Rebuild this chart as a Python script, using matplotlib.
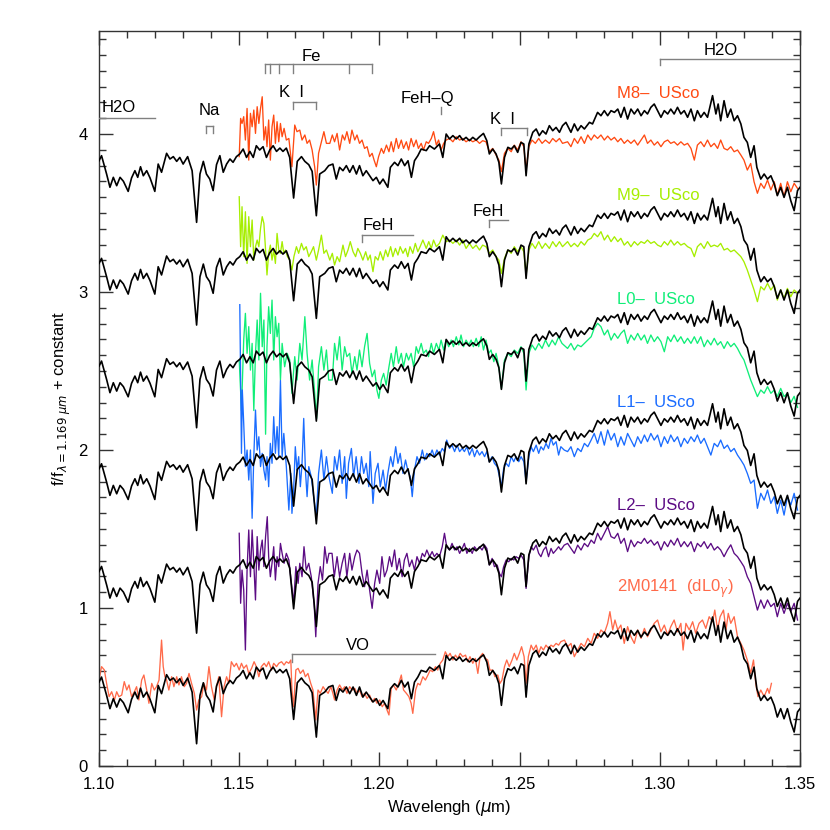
import matplotlib
matplotlib.use('Agg')
import matplotlib.pyplot as plt
from matplotlib.ticker import MultipleLocator, FormatStrFormatter

plt.rcParams['font.family'] = ['Liberation Sans', 'DejaVu Sans']
plt.rcParams['mathtext.fontset'] = 'dejavusans'

# ---------------- data ----------------
# field-dwarf comparison spectrum (black), f/f(1.169um), same for every row
wl_black = [1.1000,1.1009,1.1027,1.1039,1.1051,1.1063,1.1075,1.1087,1.1104,1.1116,1.1128,1.1138,1.1148,1.1158,1.1170,
            1.1182,1.1199,1.1211,1.1223,1.1241,1.1253,1.1265,1.1277,1.1288,1.1300,1.1316,1.1332,1.1348,1.1360,1.1372,
            1.1383,1.1395,1.1407,1.1419,1.1431,1.1443,1.1455,1.1467,1.1478,1.1490,1.1502,1.1514,1.1526,1.1538,1.1550,
            1.1561,1.1573,1.1585,1.1597,1.1609,1.1621,1.1633,1.1645,1.1656,1.1668,1.1680,1.1694,1.1707,1.1722,1.1734,
            1.1748,1.1760,1.1775,1.1787,1.1805,1.1819,1.1834,
            1.1846,1.1858,1.1870,1.1882,1.1894,1.1906,1.1918,1.1929,1.1941,1.1953,1.1965,1.1977,1.1989,1.2001,1.2013,
            1.2030,1.2039,1.2054,1.2066,1.2078,1.2090,1.2102,1.2114,1.2125,1.2137,1.2149,1.2167,1.2179,1.2196,1.2214,
            1.2226,1.2238,1.2250,1.2262,1.2274,1.2286,1.2297,1.2309,1.2321,1.2333,1.2345,1.2357,1.2371,1.2383,1.2392,
            1.2404,1.2416,1.2426,1.2435,1.2446,1.2458,1.2470,1.2481,1.2493,1.2505,1.2515,1.2523,1.2533,1.2547,1.2559,
            1.2570,1.2582,1.2594,1.2606,1.2618,1.2630,1.2642,1.2653,1.2665,
            1.2683,1.2695,1.2707,1.2719,1.2731,1.2749,1.2760,1.2778,1.2790,1.2802,1.2814,1.2826,1.2838,1.2850,1.2861,
            1.2873,1.2885,1.2897,1.2909,1.2921,1.2933,1.2945,1.2956,1.2968,1.2980,1.2992,1.3004,1.3016,1.3028,1.3039,
            1.3051,1.3063,1.3075,1.3087,1.3099,1.3111,1.3123,1.3134,1.3146,1.3158,1.3170,1.3188,1.3200,1.3208,1.3217,
            1.3229,1.3241,1.3253,1.3265,1.3277,1.3289,1.3300,1.3312,1.3324,1.3336,1.3346,1.3360,1.3372,1.3384,1.3396,
            1.3408,1.3419,1.3431,1.3443,1.3455,1.3467,1.3479,1.3491,1.3500]
fx_black = [0.531,0.563,0.447,0.363,0.426,0.373,0.426,0.401,0.337,0.422,0.468,0.426,0.493,0.436,0.468,
            0.422,0.337,0.510,0.458,0.578,0.542,0.557,0.527,0.552,0.510,0.557,0.468,0.141,0.447,0.527,
            0.447,0.415,0.342,0.506,0.563,0.458,0.510,0.542,0.521,0.557,0.574,0.605,0.552,0.590,0.552,
            0.626,0.599,0.620,0.552,0.599,0.626,0.590,0.611,0.590,0.611,0.552,0.295,0.527,0.557,0.527,
            0.506,0.464,0.183,0.447,0.468,0.500,0.510,
            0.415,0.489,0.468,0.500,0.458,0.500,0.447,0.500,0.436,0.468,0.436,0.405,0.426,0.384,0.415,
            0.363,0.489,0.521,0.500,0.542,0.500,0.531,0.426,0.531,0.563,0.605,0.595,0.626,0.605,0.637,
            0.552,0.700,0.669,0.690,0.669,0.690,0.662,0.679,0.658,0.679,0.662,0.683,0.704,0.658,0.574,
            0.605,0.574,0.521,0.384,0.552,0.616,0.605,0.626,0.584,0.647,0.637,0.436,0.637,0.711,0.732,
            0.690,0.721,0.700,0.753,0.721,0.742,0.711,0.753,0.774,
            0.711,0.764,0.721,0.753,0.732,0.774,0.764,0.837,0.816,0.848,0.816,0.848,0.837,0.858,0.806,
            0.869,0.795,0.858,0.827,0.858,0.816,0.848,0.827,0.869,0.890,0.848,0.806,0.848,0.827,0.858,
            0.827,0.869,0.827,0.848,0.806,0.858,0.784,0.848,0.806,0.837,0.806,0.943,0.827,0.890,0.784,
            0.911,0.806,0.858,0.784,0.816,0.764,0.679,0.647,0.552,0.626,0.489,0.415,0.447,0.415,0.436,
            0.384,0.310,0.363,0.299,0.363,0.278,0.215,0.342,0.363]

# common red-end wavelength grid of the USco spectra
wl_red = [1.2671,1.2683,1.2695,1.2707,1.2719,1.2731,1.2743,1.2755,1.2766,1.2778,1.2790,1.2802,1.2814,1.2826,1.2838,
          1.2850,1.2861,1.2873,1.2885,1.2897,1.2909,1.2921,1.2933,1.2945,1.2956,1.2968,1.2980,1.2992,1.3004,1.3016,
          1.3028,1.3039,1.3051,1.3063,1.3075,1.3087,1.3099,1.3111,1.3123,1.3134,1.3146,1.3158,1.3170,1.3182,1.3194,
          1.3206,1.3217,1.3229,1.3241,1.3253,1.3265,1.3277,1.3289,1.3300,1.3312,1.3324,1.3336,1.3348,1.3360,1.3372,
          1.3384,1.3396,1.3408,1.3419,1.3431,1.3443,1.3455,1.3467,1.3479,1.3491]

# M8 USco
wl_m8 = [1.1500,1.1505,1.1510,1.1516,1.1522,1.1528,1.1534,1.1540,1.1546,1.1552,1.1558,1.1564,1.1570,1.1576,1.1582,
         1.1588,1.1594,1.1599,1.1605,1.1611,1.1617,1.1623,1.1629,1.1635,1.1641,1.1647,1.1653,1.1660,1.1668,1.1677,
         1.1688,1.1698,1.1706,1.1716,1.1724,1.1734,1.1742,1.1751,1.1760,1.1769,1.1775,1.1783,1.1793,1.1802,1.1811,
         1.1823,1.1832,1.1840,1.1849,1.1858,1.1868,1.1876,1.1884,1.1894,1.1902,1.1912,1.1920,1.1929,1.1938,1.1947,
         1.1956,1.1965,1.1974,1.1981,1.1989,1.1997,1.2007,1.2015,1.2025,1.2034,1.2042,1.2050,1.2060,1.2068,1.2078,
         1.2086,1.2096,1.2104,1.2113,1.2122,1.2131,1.2139,1.2149,1.2157,1.2167,1.2175,1.2185,1.2193,1.2203,1.2211,
         1.2220,1.2229,1.2238,1.2250,1.2262,1.2274,1.2286,1.2297,1.2309,1.2321,1.2333,1.2345,1.2357,1.2368,1.2380,
         1.2392,1.2404,1.2416,1.2426,1.2435,1.2446,1.2458,1.2470,1.2481,1.2493,1.2505,1.2515,1.2523,1.2533,1.2544,
         1.2556,1.2568,1.2580,1.2592,1.2606,1.2618,1.2630,1.2642,1.2653] + wl_red
fx_m8 = [0.557,0.799,0.767,0.810,0.662,0.862,0.535,0.831,0.746,0.852,0.704,0.873,0.767,0.862,0.936,
         0.662,0.746,0.620,0.789,0.535,0.746,0.820,0.641,0.778,0.651,0.767,0.683,0.736,0.662,0.672,
         0.493,0.757,0.715,0.725,0.662,0.694,0.641,0.662,0.599,0.493,0.377,0.578,0.651,0.715,0.641,
         0.641,0.694,0.651,0.704,0.599,0.694,0.662,0.715,0.641,0.725,0.662,0.694,0.641,0.662,0.609,
         0.620,0.557,0.578,0.535,0.493,0.557,0.609,0.578,0.630,0.588,0.651,0.588,0.672,0.609,0.662,
         0.609,0.651,0.599,0.672,0.620,0.662,0.609,0.641,0.599,0.651,0.641,0.672,0.715,0.630,0.662,
         0.599,0.641,0.662,0.672,0.651,0.683,0.662,0.672,0.651,0.666,0.651,0.662,0.641,0.658,0.651,
         0.588,0.609,0.567,0.535,0.462,0.578,0.609,0.588,0.630,0.599,0.651,0.620,0.472,0.620,0.662,
         0.641,0.672,0.641,0.662,0.641,0.672,0.651,0.672,0.641,
         0.651,0.620,0.672,0.641,0.683,0.641,0.694,0.662,0.694,0.672,0.694,0.662,0.687,0.662,0.679,
         0.651,0.672,0.641,0.662,0.641,0.662,0.630,0.662,0.694,0.641,0.662,0.630,0.651,0.620,0.651,
         0.662,0.641,0.651,0.630,0.651,0.630,0.641,0.609,0.535,0.630,0.651,0.620,0.662,0.620,0.641,
         0.609,0.662,0.609,0.599,0.620,0.588,0.599,0.567,0.535,0.472,0.514,0.398,0.325,0.388,0.356,
         0.409,0.346,0.398,0.314,0.388,0.303,0.398,0.335,0.388,0.356]

# M9 USco
wl_m9 = [1.1500,1.1505,1.1510,1.1516,1.1522,1.1528,1.1534,1.1540,1.1546,1.1552,1.1558,1.1564,1.1570,1.1576,1.1582,
         1.1588,1.1594,1.1599,1.1605,1.1611,1.1617,1.1623,1.1629,1.1635,1.1641,1.1647,1.1653,1.1659,1.1665,1.1672,
         1.1680,1.1688,1.1695,1.1704,1.1712,1.1722,1.1730,1.1739,1.1748,1.1757,1.1765,1.1775,1.1783,1.1793,1.1802,
         1.1811,
         1.1823,1.1832,1.1840,1.1849,1.1858,1.1870,1.1879,1.1888,1.1896,1.1906,1.1915,1.1923,1.1932,1.1941,1.1951,
         1.1959,1.1967,1.1977,1.1985,1.1995,1.2003,1.2013,1.2022,1.2030,1.2040,1.2048,1.2057,1.2066,1.2074,1.2084,
         1.2093,1.2101,1.2109,1.2119,1.2128,1.2137,1.2145,1.2155,1.2167,1.2176,1.2185,1.2193,1.2203,1.2214,1.2226,
         1.2238,1.2250,1.2262,1.2274,1.2286,1.2297,1.2309,1.2321,1.2333,1.2345,1.2357,1.2368,1.2380,1.2392,1.2404,
         1.2416,1.2426,1.2435,1.2446,1.2458,1.2470,1.2481,1.2493,1.2505,1.2515,1.2523,1.2533,1.2544,1.2556,1.2568,
         1.2580,1.2592,1.2606,1.2618,1.2630,1.2642,1.2653] + wl_red
fx_m9 = [0.953,0.637,0.890,0.574,0.858,0.531,0.827,0.637,0.806,0.552,0.637,0.679,0.637,0.753,0.827,
         0.784,0.616,0.458,0.595,0.647,0.552,0.616,0.531,0.721,0.616,0.595,0.669,0.595,0.616,0.574,
         0.552,0.489,0.574,0.637,0.595,0.658,0.616,0.637,0.574,0.605,0.637,0.552,0.616,0.710,0.595,
         0.616,
         0.552,0.595,0.521,0.574,0.542,0.647,0.574,0.616,0.669,0.605,0.574,0.626,0.595,0.552,0.605,
         0.552,0.584,0.479,0.574,0.552,0.605,0.552,0.616,0.574,0.637,0.574,0.626,0.584,0.637,0.595,
         0.626,0.574,0.637,0.595,0.658,0.605,0.637,0.679,0.626,0.669,0.626,0.679,0.637,0.658,0.710,
         0.669,0.679,0.658,0.679,0.647,0.679,0.626,0.658,0.626,0.647,0.616,0.647,0.637,0.595,0.616,
         0.574,0.552,0.468,0.563,0.616,0.595,0.637,0.605,0.637,0.605,0.458,0.616,0.658,0.626,0.669,
         0.626,0.658,0.626,0.669,0.637,0.669,0.637,
         0.669,0.637,0.658,0.637,0.669,0.647,0.679,0.690,0.721,0.700,0.732,0.679,0.710,0.669,0.700,
         0.669,0.690,0.647,0.669,0.637,0.669,0.647,0.669,0.658,0.679,0.658,0.669,0.647,0.637,0.669,
         0.647,0.679,0.647,0.669,0.647,0.658,0.637,0.626,0.574,0.637,0.658,0.626,0.669,0.637,0.647,
         0.637,0.658,0.616,0.626,0.605,0.616,0.595,0.574,0.542,0.489,0.426,0.363,0.289,0.384,0.363,
         0.405,0.363,0.394,0.299,0.363,0.310,0.373,0.320,0.363,0.342]

# L0 USco
wl_l0 = [1.1500,1.1508,1.1516,1.1522,1.1528,1.1534,1.1540,1.1546,1.1552,1.1558,1.1564,1.1570,1.1576,1.1582,1.1588,
         1.1594,1.1599,1.1605,1.1611,1.1617,1.1623,1.1629,1.1635,1.1641,1.1647,1.1653,1.1662,1.1671,1.1680,1.1688,
         1.1698,1.1706,1.1716,1.1724,1.1734,1.1742,1.1751,1.1760,1.1769,1.1776,1.1783,1.1793,1.1802,1.1811,1.1819,
         1.1832,1.1840,1.1849,1.1858,1.1867,1.1876,1.1884,1.1894,1.1902,1.1912,1.1920,1.1929,1.1938,1.1947,1.1956,
         1.1965,1.1974,1.1983,1.1991,1.1998,1.2007,1.2015,1.2024,1.2034,1.2042,1.2050,1.2060,1.2068,1.2078,1.2086,
         1.2096,1.2104,1.2113,1.2122,1.2131,1.2139,1.2149,1.2157,1.2167,1.2175,1.2185,1.2193,1.2203,1.2212,1.2220,
         1.2229,1.2238,1.2247,1.2256,1.2264,1.2274,1.2283,1.2291,1.2300,1.2309,1.2319,1.2327,1.2335,1.2345,1.2354,
         1.2363,1.2371,1.2380,1.2390,1.2398,1.2408,1.2416,1.2426,1.2435,1.2446,1.2458,1.2470,1.2481,1.2493,1.2505,
         1.2515,1.2523,1.2533,1.2544,1.2556,1.2568,1.2580,1.2592,1.2604,1.2616,1.2627,1.2639,1.2651] + wl_red
fx_l0 = [0.570,0.250,0.696,0.865,0.612,0.781,0.506,0.675,0.250,0.612,0.823,0.570,0.992,0.654,0.823,
         0.100,0.654,0.907,0.738,0.949,0.570,0.844,0.717,0.802,0.443,0.675,0.527,0.612,0.570,0.359,
         0.591,0.443,0.675,0.570,0.844,0.612,0.443,0.570,0.359,0.200,0.527,0.654,0.506,0.633,0.443,
         0.443,0.675,0.570,0.717,0.506,0.654,0.591,0.612,0.485,0.591,0.506,0.633,0.527,0.654,0.738,
         0.549,0.464,0.506,0.380,0.327,0.443,0.485,0.411,0.527,0.612,0.527,0.654,0.549,0.612,0.527,
         0.612,0.570,0.612,0.527,0.654,0.612,0.675,0.612,0.633,0.591,0.675,0.612,0.675,0.633,0.696,
         0.633,0.696,0.654,0.696,0.654,0.717,0.665,0.728,0.654,0.696,0.665,0.696,0.654,0.707,0.654,
         0.717,0.633,0.696,0.612,0.633,0.559,0.612,0.527,0.390,0.570,0.612,0.591,0.633,0.612,0.654,
         0.612,0.380,0.612,0.665,0.633,0.675,0.643,0.696,0.654,0.696,0.665,0.717,0.675,
         0.643,0.675,0.633,0.665,0.654,0.675,0.696,0.717,0.770,0.802,0.781,0.728,0.760,0.696,0.738,
         0.707,0.738,0.760,0.675,0.728,0.696,0.738,0.696,0.728,0.675,0.728,0.686,0.717,0.686,0.622,
         0.717,0.686,0.728,0.686,0.717,0.675,0.707,0.675,0.717,0.675,0.717,0.654,0.696,0.665,0.707,
         0.665,0.686,0.643,0.686,0.654,0.675,0.643,0.601,0.570,0.506,0.443,0.390,0.338,0.380,0.359,
         0.401,0.359,0.380,0.338,0.390,0.338,0.360,0.300,0.340,0.270]

# L1 USco
wl_l1 = [1.1502,1.1508,1.1511,1.1516,1.1522,1.1528,1.1534,1.1540,1.1546,1.1552,1.1558,1.1564,1.1570,1.1576,1.1582,
         1.1588,1.1594,1.1599,1.1605,1.1611,1.1617,1.1623,1.1629,1.1635,1.1641,1.1647,1.1653,1.1659,1.1668,1.1677,
         1.1684,1.1688,1.1694,1.1700,1.1706,1.1712,1.1718,1.1724,1.1730,1.1736,1.1742,1.1748,1.1757,1.1767,1.1775,
         1.1783,1.1793,1.1802,1.1811,1.1820,
         1.1832,1.1840,1.1849,1.1858,1.1867,1.1876,1.1882,1.1890,1.1900,1.1908,1.1917,1.1927,1.1936,1.1944,1.1953,
         1.1962,1.1967,1.1977,1.1985,1.1995,1.2003,1.2013,1.2022,1.2030,1.2040,1.2048,1.2058,1.2066,1.2074,1.2084,
         1.2093,1.2101,1.2110,1.2117,1.2125,1.2134,1.2143,1.2153,1.2161,1.2169,1.2179,1.2188,1.2196,1.2205,1.2214,
         1.2224,1.2232,1.2240,1.2250,1.2259,1.2268,1.2277,1.2286,1.2295,1.2303,1.2312,1.2321,1.2331,1.2339,1.2348,
         1.2357,1.2366,1.2375,1.2383,1.2392,1.2402,1.2410,1.2420,1.2428,1.2435,1.2443,1.2452,1.2461,1.2470,1.2479,
         1.2487,1.2497,1.2505,1.2515,1.2523,1.2533,1.2541,1.2549,1.2559,1.2568,1.2576,1.2585,1.2594,1.2603,1.2612,
         1.2620,1.2630,1.2639,1.2647,1.2659] + wl_red
fx_l1 = [1.570,0.629,1.030,0.819,0.545,0.650,0.460,0.650,0.218,0.608,0.903,0.650,0.734,0.545,0.629,
         0.523,0.460,0.608,0.418,0.692,0.566,0.861,0.629,0.798,0.608,1.090,0.608,0.755,0.545,0.270,
         0.502,0.249,0.397,0.671,0.523,0.608,0.418,0.566,0.850,0.523,0.355,0.545,0.481,0.333,0.228,
         0.502,0.650,0.460,0.608,0.481,
         0.376,0.608,0.523,0.650,0.439,0.608,0.344,0.566,0.660,0.481,0.608,0.439,0.608,0.502,0.566,
         0.418,0.640,0.312,0.502,0.566,0.418,0.523,0.397,0.502,0.608,0.545,0.671,0.566,0.629,0.502,
         0.587,0.523,0.481,0.355,0.523,0.608,0.566,0.650,0.587,0.629,0.608,0.650,0.608,0.650,0.618,
         0.660,0.640,0.713,0.660,0.681,0.640,0.681,0.640,0.660,0.640,0.671,0.618,0.660,0.608,0.650,
         0.618,0.640,0.608,0.640,0.576,0.608,0.566,0.545,0.481,0.418,0.534,0.566,0.545,0.608,0.576,
         0.608,0.576,0.608,0.576,0.450,0.608,0.671,0.640,0.681,0.629,0.671,0.650,0.692,0.660,0.724,
         0.681,0.703,0.618,0.671,0.650,
         0.640,0.671,0.608,0.660,0.640,0.692,0.671,0.713,0.755,0.692,0.766,0.681,0.777,0.713,0.755,
         0.671,0.734,0.681,0.755,0.713,0.671,0.734,0.692,0.745,0.703,0.755,0.713,0.745,0.671,0.734,
         0.692,0.745,0.703,0.734,0.671,0.724,0.692,0.734,0.703,0.745,0.692,0.724,0.671,0.618,0.692,
         0.671,0.713,0.660,0.681,0.640,0.660,0.618,0.587,0.555,0.502,0.439,0.460,0.281,0.376,0.333,
         0.397,0.312,0.355,0.249,0.333,0.238,0.355,0.302,0.376,0.270]

# L2 USco
wl_l2 = [1.1500,1.1505,1.1510,1.1516,1.1522,1.1528,1.1534,1.1540,1.1546,1.1552,1.1558,1.1564,1.1570,1.1576,1.1582,
         1.1588,1.1594,1.1600,1.1605,1.1611,1.1617,1.1623,1.1629,1.1635,1.1641,1.1647,1.1653,1.1660,1.1668,1.1677,
         1.1686,1.1694,1.1702,1.1710,1.1716,1.1724,1.1731,1.1739,1.1748,1.1757,1.1767,1.1773,1.1781,1.1789,1.1797,
         1.1805,1.1813,1.1820,
         1.1831,1.1839,1.1849,1.1858,1.1867,1.1876,1.1884,1.1894,1.1902,1.1912,1.1920,1.1929,1.1938,1.1947,1.1956,
         1.1965,1.1974,1.1983,1.1991,1.2001,1.2009,1.2018,1.2027,1.2036,1.2044,1.2054,1.2062,1.2071,1.2081,1.2089,
         1.2098,1.2107,1.2116,1.2125,1.2134,1.2143,1.2153,1.2161,1.2169,1.2179,1.2188,1.2196,1.2205,1.2214,1.2224,
         1.2232,1.2240,1.2250,1.2259,1.2268,1.2277,1.2286,1.2295,1.2303,1.2312,1.2321,1.2331,1.2339,1.2348,1.2357,
         1.2366,1.2375,1.2383,1.2392,1.2402,1.2410,1.2420,1.2428,1.2435,1.2443,1.2452,1.2461,1.2470,1.2479,1.2487,
         1.2497,1.2505,1.2515,1.2523,1.2533,1.2541,1.2549,1.2559,1.2568,1.2576,1.2585,1.2594,1.2603,1.2612,1.2620,
         1.2630,1.2639,1.2647,1.2659] + wl_red
fx_l2 = [0.773,0.330,0.540,0.414,0.034,0.540,0.794,0.498,0.794,0.583,0.351,0.752,0.540,0.667,0.730,
         0.562,0.752,0.878,0.625,0.498,0.583,0.688,0.477,0.625,0.562,0.709,0.646,0.583,0.646,0.604,
         0.456,0.330,0.562,0.456,0.583,0.498,0.688,0.540,0.583,0.498,0.330,0.118,0.456,0.562,0.477,
         0.688,0.583,0.646,
         0.646,0.498,0.625,0.498,0.583,0.646,0.498,0.646,0.540,0.625,0.667,0.646,0.519,0.435,0.540,
         0.414,0.298,0.456,0.540,0.456,0.625,0.498,0.540,0.625,0.562,0.667,0.540,0.614,0.498,0.604,
         0.646,0.562,0.604,0.540,0.625,0.583,0.646,0.625,0.667,0.625,0.657,0.625,0.646,0.625,0.688,
         0.773,0.688,0.667,0.709,0.667,0.688,0.646,0.677,0.709,0.646,0.677,0.646,0.688,0.667,0.688,
         0.667,0.698,0.677,0.572,0.614,0.562,0.572,0.519,0.498,0.562,0.604,0.593,0.614,0.604,0.625,
         0.614,0.635,0.604,0.424,0.625,0.688,0.667,0.698,0.646,0.625,0.667,0.688,0.625,0.677,0.646,
         0.667,0.688,0.667,0.698,
         0.709,0.677,0.646,0.698,0.667,0.709,0.688,0.730,0.709,0.773,0.730,0.773,0.815,0.752,0.741,
         0.773,0.709,0.741,0.657,0.730,0.688,0.720,0.709,0.741,0.709,0.730,0.698,0.720,0.667,0.720,
         0.688,0.730,0.698,0.741,0.688,0.720,0.688,0.720,0.657,0.709,0.688,0.720,0.677,0.709,0.667,
         0.688,0.667,0.625,0.667,0.700,0.646,0.625,0.593,0.562,0.498,0.456,0.372,0.287,0.351,0.298,
         0.351,0.309,0.330,0.245,0.330,0.266,0.330,0.277,0.330,0.224]

# 2M0141 (dL0 gamma)
wl_2m = [1.1000,1.1009,1.1019,1.1027,1.1036,1.1045,1.1055,1.1063,1.1071,1.1081,1.1090,1.1099,1.1107,1.1116,1.1126,
         1.1134,1.1142,1.1152,1.1160,1.1170,1.1178,1.1188,1.1197,1.1205,1.1214,1.1223,1.1229,1.1235,1.1241,1.1249,
         1.1259,1.1267,1.1277,1.1285,1.1294,1.1304,1.1312,1.1321,1.1330,1.1340,1.1348,1.1356,1.1366,1.1374,1.1383,
         1.1392,1.1401,1.1411,1.1419,1.1427,1.1437,1.1446,1.1455,1.1463,1.1472,1.1482,1.1490,1.1500,1.1508,1.1516,
         1.1526,1.1534,1.1544,1.1553,1.1561,1.1570,1.1579,1.1589,1.1597,1.1605,1.1615,1.1623,1.1633,1.1641,1.1651,
         1.1660,1.1668,1.1677,1.1684,1.1688,1.1694,1.1702,1.1710,1.1718,1.1728,1.1736,1.1745,1.1755,1.1763,1.1773,
         1.1781,1.1789,1.1799,1.1807,1.1817,
         1.1827,1.1834,1.1840,1.1849,1.1858,1.1868,1.1876,1.1884,1.1894,1.1903,1.1912,1.1920,1.1929,1.1938,1.1947,
         1.1956,1.1965,1.1974,1.1983,1.1991,1.2001,1.2010,1.2018,1.2027,1.2034,1.2042,1.2050,1.2060,1.2069,1.2078,
         1.2086,1.2096,1.2105,1.2113,1.2119,1.2129,1.2137,1.2145,1.2155,1.2164,1.2173,1.2181,1.2190,1.2200,1.2208,
         1.2217,1.2226,1.2235,1.2244,1.2252,1.2262,1.2271,1.2279,1.2288,1.2297,1.2307,1.2315,1.2323,1.2333,1.2342,
         1.2351,1.2359,1.2368,1.2378,1.2386,1.2394,1.2404,1.2412,1.2422,1.2430,1.2437,1.2446,1.2454,1.2463,1.2473,
         1.2481,1.2490,1.2499,1.2507,1.2516,1.2523,1.2531,1.2541,1.2549,1.2559,1.2568,1.2576,1.2585,1.2594,1.2603,
         1.2612,1.2620,1.2630,1.2639,1.2647,1.2660,
         1.2671,1.2683,1.2695,1.2707,1.2719,1.2731,1.2743,1.2755,1.2766,1.2778,1.2790,1.2802,1.2814,1.2822,1.2832,
         1.2840,1.2850,1.2861,1.2873,1.2885,1.2897,1.2909,1.2921,1.2933,1.2945,1.2956,1.2968,1.2980,1.2992,1.3004,
         1.3016,1.3028,1.3039,1.3051,1.3063,1.3075,1.3083,1.3093,1.3105,1.3117,1.3128,1.3140,1.3152,1.3164,1.3176,
         1.3188,1.3196,1.3206,1.3215,1.3227,1.3236,1.3244,1.3253,1.3265,1.3277,1.3289,1.3300,1.3312,1.3324,1.3334,
         1.3342,1.3350,1.3360,1.3372,1.3384,1.3390,1.3398]
fx_2m = [0.544,0.629,0.608,0.523,0.439,0.470,0.418,0.470,0.439,0.449,0.534,0.481,0.513,0.439,0.470,
         0.502,0.418,0.544,0.576,0.481,0.397,0.523,0.481,0.502,0.544,0.797,0.629,0.565,0.544,0.481,
         0.565,0.502,0.565,0.513,0.565,0.502,0.523,0.586,0.523,0.460,0.354,0.418,0.439,0.523,0.481,
         0.629,0.502,0.418,0.502,0.565,0.312,0.502,0.565,0.523,0.660,0.629,0.650,0.608,0.650,0.618,
         0.639,0.586,0.618,0.660,0.629,0.565,0.629,0.650,0.629,0.660,0.608,0.650,0.629,0.650,0.660,
         0.639,0.660,0.650,0.671,0.481,0.375,0.608,0.618,0.586,0.608,0.565,0.586,0.523,0.481,0.291,
         0.481,0.460,0.502,0.481,0.460,
         0.502,0.460,0.418,0.481,0.513,0.481,0.502,0.460,0.502,0.481,0.491,0.460,0.481,0.439,0.460,
         0.428,0.449,0.407,0.428,0.397,0.418,0.375,0.397,0.354,0.323,0.491,0.513,0.481,0.523,0.576,
         0.481,0.460,0.439,0.397,0.333,0.481,0.523,0.513,0.565,0.544,0.576,0.607,0.597,0.629,0.607,
         0.650,0.671,0.723,0.692,0.713,0.671,0.702,0.681,0.713,0.692,0.702,0.660,0.692,0.650,0.681,
         0.586,0.692,0.713,0.681,0.671,0.607,0.607,0.565,0.576,0.523,0.544,0.629,0.671,0.629,0.671,
         0.713,0.671,0.713,0.755,0.692,0.523,0.692,0.765,0.734,0.765,0.713,0.755,0.734,0.765,0.745,
         0.765,0.755,0.776,0.765,0.787,0.797,
         0.755,0.776,0.692,0.734,0.776,0.755,0.808,0.776,0.840,0.808,0.861,0.840,0.903,0.977,0.861,
         0.924,0.861,0.892,0.776,0.882,0.818,0.776,0.861,0.808,0.871,0.818,0.861,0.903,0.924,0.850,
         0.892,0.829,0.882,0.924,0.850,0.903,0.734,0.903,0.861,0.913,0.840,0.903,0.924,0.871,0.945,
         0.913,0.987,0.861,0.945,0.987,0.861,0.966,0.903,0.945,0.818,0.776,0.734,0.671,0.586,0.671,
         0.523,0.439,0.481,0.439,0.491,0.460,0.523]

offsets = [3.30, 2.65, 2.00, 1.35, 0.70, 0.00]
labels = ['M8\u2013  USco', 'M9\u2013  USco', 'L0\u2013  USco', 'L1\u2013  USco', 'L2\u2013  USco',
          '2M0141  (dL0$_{\\gamma}$)']
colors = ['#ff4a12', '#a6ee00', '#10ee78', '#1a6cff', '#5c0c84', '#ff6a4a']
series = [(wl_m8, fx_m8), (wl_m9, fx_m9), (wl_l0, fx_l0), (wl_l1, fx_l1), (wl_l2, fx_l2), (wl_2m, fx_2m)]

# ---------------- figure ----------------
fig = plt.figure(figsize=(8.3, 8.3), dpi=100)
ax = fig.add_axes([0.1193, 0.0771, 0.8446, 0.8859])

for (wl, fx), off, col in zip(series, offsets, colors):
    ax.plot(wl, [v + off for v in fx], color=col, lw=0.95, zorder=2)
    ax.plot(wl_black, [v + off for v in fx_black], color='black', lw=1.2, zorder=3)

label_y = [4.257, 3.608, 2.954, 2.302, 1.652, 1.12]
for lab, ly, col in zip(labels, label_y, colors):
    ax.text(1.2848, ly, lab, color=col, fontsize=12, ha='left', va='center')

# feature annotations
gc = '#808080'
alw = 1.0
def hline(x0, x1, y, ticks, tick_len):
    ax.plot([x0, x1], [y, y], color=gc, lw=alw, zorder=4)
    for t in ticks:
        ax.plot([t, t], [y, y - tick_len], color=gc, lw=alw, zorder=4)

# H2O (left)
hline(1.100, 1.120, 4.10, [], 0)
ax.text(1.1008, 4.165, 'H2O', fontsize=12, ha='left', va='center')
# Na
hline(1.1383, 1.1407, 4.05, [1.1383, 1.1407], 0.045)
ax.text(1.1395, 4.10, 'Na', fontsize=12, ha='center', va='bottom')
# Fe
hline(1.1591, 1.1975, 4.441, [1.1591, 1.1609, 1.1641, 1.1692, 1.1891, 1.1975], 0.052)
ax.text(1.1757, 4.49, 'Fe', fontsize=12, ha='center', va='center')
# K I (1.169/1.177)
hline(1.1692, 1.1773, 4.203, [1.1692, 1.1773], 0.045)
ax.text(1.1686, 4.262, 'K  I', fontsize=12, ha='center', va='center')
# FeH-Q
ax.plot([1.2220, 1.2220], [4.125, 4.168], color=gc, lw=alw)
ax.text(1.2173, 4.225, 'FeH\u2013Q', fontsize=12, ha='center', va='center')
# K I (1.243/1.252)
hline(1.2434, 1.2528, 4.04, [1.2434, 1.2528], 0.046)
ax.text(1.2440, 4.095, 'K  I', fontsize=12, ha='center', va='center')
# FeH (1.194)
hline(1.1938, 1.2120, 3.363, [1.1938], 0.045)
ax.text(1.1995, 3.42, 'FeH', fontsize=12, ha='center', va='center')
# FeH (1.239)
hline(1.2389, 1.2458, 3.456, [1.2389], 0.043)
ax.text(1.2389, 3.51, 'FeH', fontsize=12, ha='center', va='center')
# H2O (right)
hline(1.300, 1.350, 4.478, [1.300], 0.042)
ax.text(1.3217, 4.53, 'H2O', fontsize=12, ha='center', va='center')
# VO
hline(1.1690, 1.2197, 0.707, [1.1690], 0.047)
ax.text(1.1923, 0.76, 'VO', fontsize=12, ha='center', va='center')

ax.set_xlim(1.10, 1.35)
ax.set_ylim(0.0, 4.654)
ax.xaxis.set_major_locator(MultipleLocator(0.05))
ax.xaxis.set_minor_locator(MultipleLocator(0.01))
ax.yaxis.set_major_locator(MultipleLocator(1))
ax.yaxis.set_minor_locator(MultipleLocator(0.1))
ax.xaxis.set_major_formatter(FormatStrFormatter('%.2f'))
ax.yaxis.set_major_formatter(FormatStrFormatter('%d'))
ax.tick_params(which='both', direction='in', top=True, right=True, labelsize=12, color='#333333')
ax.tick_params(which='major', length=10, width=1.0, pad=8)
ax.tick_params(which='minor', length=5, width=1.0)
for s in ax.spines.values():
    s.set_color('#333333')
    s.set_linewidth(1.0)

ax.set_xlabel('Wavelengh ($\\mu$m)', fontsize=12, labelpad=4)
ax.set_ylabel('f/f$_{\\lambda=1.169\\ \\mu m}$ + constant', fontsize=12, labelpad=4)

fig.savefig('out.png', dpi=100)
